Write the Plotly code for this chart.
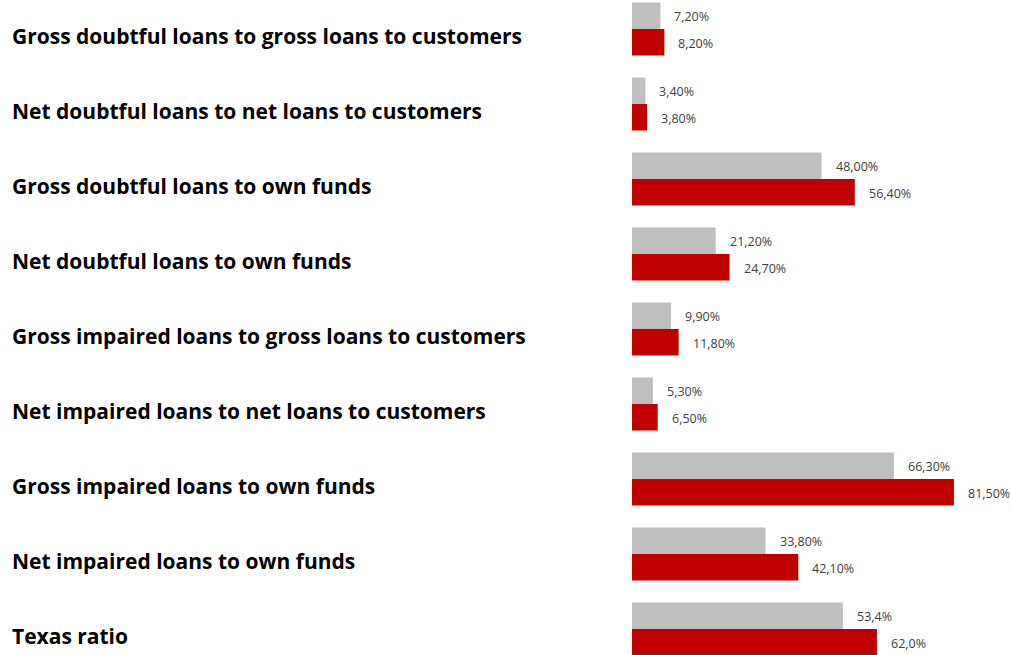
import plotly.graph_objects as go

categories = [
    "Gross doubtful loans to gross loans to customers",
    "Net doubtful loans to net loans to customers",
    "Gross doubtful loans to own funds",
    "Net doubtful loans to own funds",
    "Gross impaired loans to gross loans to customers",
    "Net impaired loans to net loans to customers",
    "Gross impaired loans to own funds",
    "Net impaired loans to own funds",
    "Texas ratio",
]
grey_values = [7.2, 3.4, 48.0, 21.2, 9.9, 5.3, 66.3, 33.8, 53.4]
red_values = [8.2, 3.8, 56.4, 24.7, 11.8, 6.5, 81.5, 42.1, 62.0]
decimals = [2, 2, 2, 2, 2, 2, 2, 2, 1]

GREY = "#BFBFBF"
RED = "#C00000"
LEFT = 632
W, H = 1011, 655


def fmt(v, d):
    return f"{v:.{d}f}".replace(".", ",") + "%"


ypos = list(range(len(categories)))

fig = go.Figure()
fig.add_trace(go.Bar(y=ypos, x=grey_values, orientation="h",
                     marker=dict(color=GREY, line=dict(width=0)),
                     hoverinfo="skip", name="grey"))
fig.add_trace(go.Bar(y=ypos, x=red_values, orientation="h",
                     marker=dict(color=RED, line=dict(width=0)),
                     hoverinfo="skip", name="red"))

annotations = []
# value labels after each bar
offset = 0.707 / 4
for i, (g, r, d) in enumerate(zip(grey_values, red_values, decimals)):
    for v, dy in ((g, -offset), (r, offset)):
        annotations.append(dict(
            x=v, y=i + dy, xref="x", yref="y", text=fmt(v, d),
            showarrow=False, xanchor="left", yanchor="middle", xshift=12,
            yshift=-1,
            font=dict(family="Open Sans, sans-serif", size=12.5, color="#404040"),
        ))
# category names on the left
for i, c in enumerate(categories):
    annotations.append(dict(
        x=(10 - LEFT) / (W - LEFT), y=i, xref="paper", yref="y",
        text=f"<b>{c}</b>", showarrow=False, xanchor="left",
        yanchor="middle", yshift=-7,
        font=dict(family="Open Sans, sans-serif", size=21, color="#000000"),
    ))

fig.update_layout(
    width=W, height=H,
    margin=dict(l=LEFT, r=0, t=0, b=0),
    paper_bgcolor="white", plot_bgcolor="white",
    barmode="group", bargap=0.293, bargroupgap=0,
    showlegend=False,
    xaxis=dict(range=[0, (W - LEFT) / 3.95], visible=False, fixedrange=True),
    yaxis=dict(range=[8.347, -0.387], visible=False, fixedrange=True),
    annotations=annotations,
)

fig.write_html("out.html")
